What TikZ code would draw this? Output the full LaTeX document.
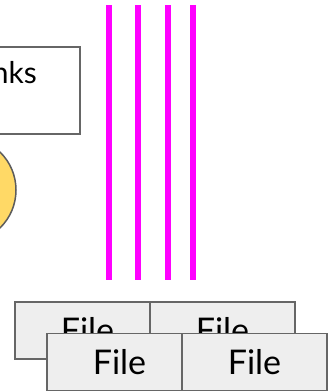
\documentclass[tikz,border=0pt]{standalone}
\usepackage{fontspec}
\setmainfont{Lato}
\usepackage{xcolor}
\usetikzlibrary{positioning}

\definecolor{filegray}{HTML}{EEEEEE}
\definecolor{edgegray}{HTML}{666666}
\definecolor{sunny}{HTML}{FFD966}
\definecolor{streampink}{HTML}{FF00FF}

\begin{document}
\begin{tikzpicture}[
        x=1pt, y=-1pt,
        filebox/.style={rectangle, draw=edgegray, fill=filegray, line width=1.5pt,
            minimum width=145pt, minimum height=57pt, inner sep=0pt,
            font=\fontsize{34}{40}\selectfont},
        stream/.style={draw=streampink, line width=6pt}
    ]
    \clip (0,0) rectangle (328,392);
    \useasboundingbox (0,0) rectangle (328,392);

    % Box with its label
    \node[rectangle, draw=edgegray, fill=white, line width=1.5pt,
        minimum width=140pt, minimum height=87pt] (linkbox) at (10,90.5) {};
    \node[anchor=base east, inner sep=0pt, font=\fontsize{30}{36}\selectfont]
        (linktext) at (37,83) {nks};

    % Round node
    \node[circle, draw=edgegray!90!black, fill=sunny, line width=1.5pt,
        minimum size=106pt] (sun) at (-37,190) {};

    % Streams
    \foreach \x in {109,138,168,193}
        \draw[stream] (\x,5) -- (\x,280);

    % Files
    \node[filebox] (file1) at (87.5,330.5) {File};
    \node[filebox] (file2) at (222.5,330.5) {File};
    \node[filebox] (file3) at (119.5,361.75) {File};
    \node[filebox] (file4) at (254.5,361.75) {File};

\end{tikzpicture}
\end{document}
